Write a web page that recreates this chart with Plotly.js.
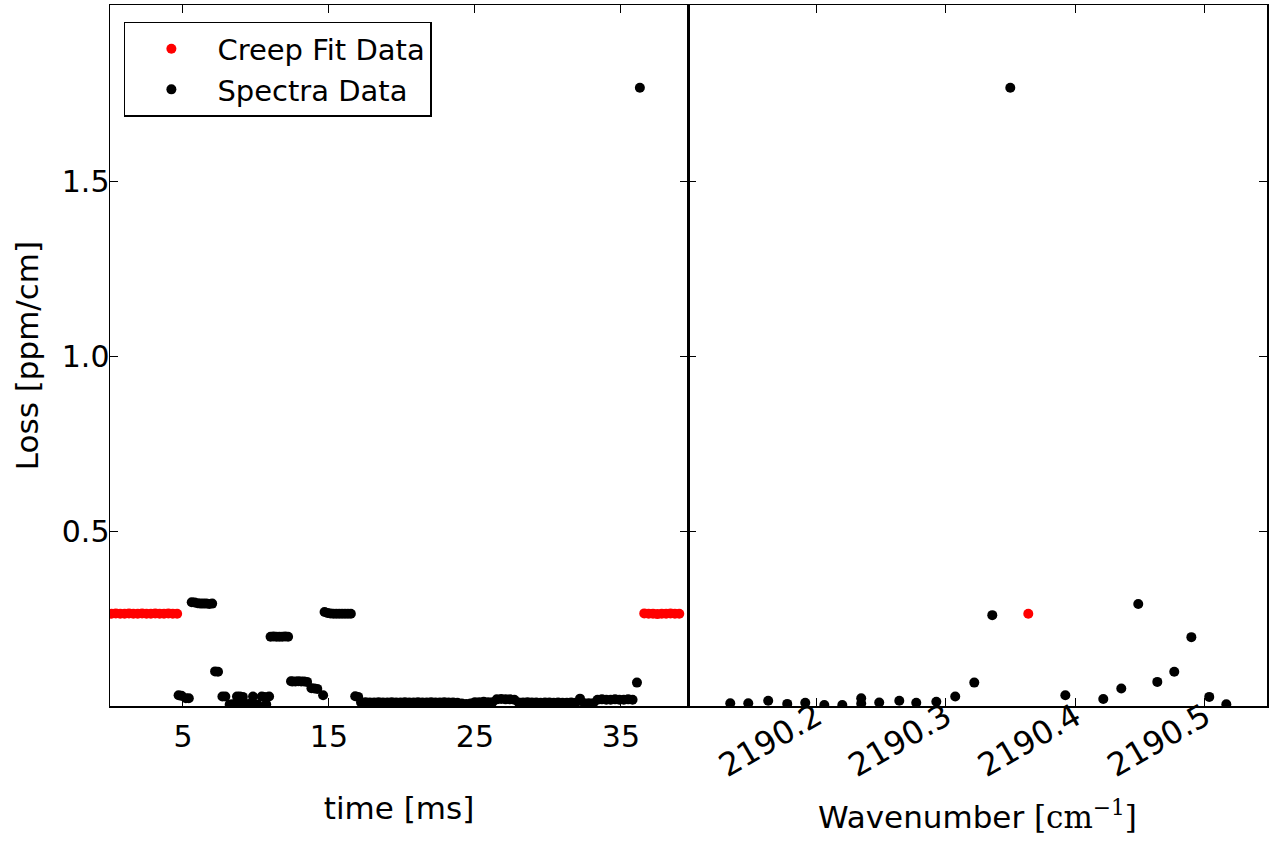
<!DOCTYPE html>
<html>
<head>
<meta charset="utf-8">
<script src="https://cdn.plot.ly/plotly-3.0.1.min.js"></script>
<style>html,body{margin:0;padding:0;background:#fff;}#chart{width:1274px;height:841px;}</style>
</head>
<body>
<div id="chart"></div>
<script>
// ---- Left panel: time series ----
const creepTime = [0.1,0.4,0.7,1.0,1.3,1.6,1.9,2.2,2.5,2.8,3.1,3.4,3.7,4.0,4.3,4.6,
  36.6,36.9,37.2,37.5,37.8,38.1,38.4,38.7,39.0];
const creepLoss = [0.264,0.265,0.264,0.264,0.265,0.264,0.264,0.265,0.264,0.264,0.265,0.264,0.264,0.265,0.264,0.264,
  0.265,0.264,0.264,0.263,0.264,0.264,0.265,0.264,0.264];

const spectraTime = [4.7,4.9,5.2,5.4,5.6,5.8,6.0,6.2,6.4,6.6,6.8,7.0,7.2,7.4,7.7,7.9,
  8.2,8.4,8.6,8.7,8.9,9.0,9.1,9.3,9.5,9.8,9.8,10.1,10.4,10.6,10.7,10.9,
  11.0,11.2,11.4,11.6,11.8,12.0,12.2,12.4,12.5,12.7,12.9,13.1,13.3,13.5,13.8,14.0,14.2,14.6,
  14.7,14.9,15.1,15.3,15.5,15.7,15.9,16.1,16.3,16.5,16.8,17.0,
  17.2,17.5,17.8,18.1,18.4,18.7,19.0,19.3,19.6,19.9,20.2,20.5,20.8,21.1,21.4,21.7,22.0,22.3,22.6,22.9,
  23.2,23.5,23.8,24.1,24.4,24.7,25.0,25.3,25.6,25.9,26.2,26.5,26.8,27.1,27.4,27.7,28.0,28.3,28.6,28.9,
  29.2,29.5,29.8,30.1,30.4,30.7,31.0,31.3,31.6,31.9,32.2,32.5,32.8,33.1,33.4,33.7,34.0,34.3,34.6,34.9,
  35.2,35.5,35.8,36.1,36.3];
const spectraLoss = [0.031,0.029,0.022,0.022,0.297,0.296,0.294,0.293,0.293,0.293,0.292,0.293,0.099,0.098,0.027,0.027,
  0.004,0.005,0.006,0.027,0.027,0.005,0.026,0.004,0.006,0.027,0.005,0.004,0.027,0.026,0.005,0.027,
  0.198,0.199,0.198,0.198,0.198,0.199,0.198,0.071,0.070,0.070,0.071,0.070,0.070,0.069,0.051,0.050,0.049,0.031,
  0.269,0.266,0.265,0.264,0.264,0.264,0.264,0.264,0.264,0.264,0.028,0.026,
  0.010,0.011,0.010,0.010,0.011,0.010,0.010,0.011,0.010,0.010,0.011,0.010,0.010,0.011,0.010,0.010,0.011,0.010,0.010,0.011,
  0.010,0.010,0.009,0.007,0.006,0.007,0.011,0.011,0.012,0.011,0.011,0.019,0.020,0.019,0.019,0.018,0.010,0.010,0.011,0.010,
  0.010,0.009,0.010,0.010,0.009,0.010,0.009,0.009,0.010,0.009,0.021,0.008,0.008,0.008,0.018,0.019,0.018,0.018,0.019,0.018,
  0.018,0.019,0.018,0.067,1.769];

// ---- Right panel: spectrum ----
const creepWn = [2190.3637];
const creepWnLoss = [0.264];
const spectraWn = [2190.1336,2190.1475,2190.1629,2190.1776,2190.1915,2190.2062,2190.2201,2190.2347,2190.2347,
  2190.2486,2190.2641,2190.2772,2190.2927,2190.3073,2190.3220,2190.3359,2190.3498,
  2190.3923,2190.4216,2190.4355,2190.4486,2190.4633,2190.4764,2190.4896,2190.5034,2190.5166];
const spectraWnLoss = [0.008,0.008,0.015,0.006,0.009,0.003,0.003,0.022,0.007,
  0.010,0.015,0.009,0.012,0.027,0.067,0.260,1.769,
  0.031,0.020,0.050,0.292,0.069,0.098,0.197,0.026,0.005];

const timeTicks = [5,15,25,35];
const wnTicks = [2190.2,2190.3,2190.4,2190.5];
const wnTickText = ['2190.2','2190.3','2190.4','2190.5'];
const lossTicks = [0.5,1.0,1.5];
const lossTickText = ['0.5','1.0','1.5'];

const FONT = 'DejaVu Sans';
const mk = (c) => ({color: c, size: 10});

const traces = [
  {x: creepTime, y: creepLoss, type: 'scatter', mode: 'markers', name: 'Creep Fit Data',
   marker: mk('#ff0000'), xaxis: 'x', yaxis: 'y', legendgroup: 'c'},
  {x: spectraTime, y: spectraLoss, type: 'scatter', mode: 'markers', name: 'Spectra Data',
   marker: mk('#000000'), xaxis: 'x', yaxis: 'y', legendgroup: 's'},
  {x: creepWn, y: creepWnLoss, type: 'scatter', mode: 'markers', name: 'Creep Fit Data',
   marker: mk('#ff0000'), xaxis: 'x2', yaxis: 'y2', showlegend: false, legendgroup: 'c'},
  {x: spectraWn, y: spectraWnLoss, type: 'scatter', mode: 'markers', name: 'Spectra Data',
   marker: mk('#000000'), xaxis: 'x2', yaxis: 'y2', showlegend: false, legendgroup: 's'}
];

const axBase = {
  showline: true, linecolor: '#000', linewidth: 1.5, mirror: 'allticks',
  ticks: 'inside', ticklen: 8, tickwidth: 1, tickcolor: '#000',
  showgrid: false, zeroline: false,
  tickfont: {family: FONT, size: 30, color: '#000'}
};

const layout = {
  width: 1274, height: 841,
  margin: {l: 110, r: 7, t: 5, b: 135},
  paper_bgcolor: '#fff', plot_bgcolor: '#fff',
  font: {family: FONT, color: '#000'},
  showlegend: true,
  legend: {
    x: 0.012, y: 0.976, xanchor: 'left', yanchor: 'top',
    bgcolor: '#fff', bordercolor: '#000', borderwidth: 1.5,
    font: {family: FONT, size: 29, color: '#000'},
    itemwidth: 82,
    tracegroupgap: 0
  },
  xaxis: Object.assign({}, axBase, {
    domain: [0, 0.4996], range: [0, 39.6], anchor: 'y',
    tickmode: 'array', tickvals: timeTicks, ticktext: timeTicks.map(String),
    ticklabelstandoff: 3,
    title: {text: 'time [ms]', font: {family: FONT, size: 31, color: '#000'}, standoff: 45}
  }),
  yaxis: Object.assign({}, axBase, {
    domain: [0, 1], range: [0, 2.006], anchor: 'x',
    tickmode: 'array', tickvals: lossTicks, ticktext: lossTickText,
    ticklabelstandoff: -7,
    title: {text: 'Loss [ppm/cm]', font: {family: FONT, size: 31, color: '#000'}, standoff: 14}
  }),
  xaxis2: Object.assign({}, axBase, {
    domain: [0.4996, 1], range: [2190.101, 2190.548], anchor: 'y2',
    tickmode: 'array', tickvals: wnTicks, ticktext: wnTickText, tickangle: -30,
    tickfont: {family: FONT, size: 32, color: '#000'},
    ticklabelstandoff: -22,
    title: {text: "Wavenumber <span style='font-family:DejaVu Serif'>[cm<sup>\u22121</sup>]</span>",
            font: {family: FONT, size: 31, color: '#000'}, standoff: 22}
  }),
  yaxis2: Object.assign({}, axBase, {
    domain: [0, 1], range: [0, 2.006], anchor: 'x2', matches: 'y',
    tickmode: 'array', tickvals: lossTicks, ticktext: lossTickText, showticklabels: false
  })
};

Plotly.newPlot('chart', traces, layout, {displayModeBar: false, staticPlot: true});
</script>
</body>
</html>
